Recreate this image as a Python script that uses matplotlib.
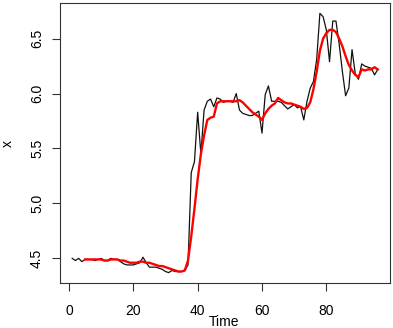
import matplotlib
matplotlib.use('Agg')
import matplotlib.pyplot as plt

plt.rcParams['font.family'] = ['Liberation Sans', 'DejaVu Sans']

# observed series, t = 1..96
time = list(range(1, 97))
x = [4.50, 4.48, 4.50, 4.47, 4.49, 4.49, 4.49, 4.48, 4.49, 4.50,
     4.48, 4.48, 4.50, 4.49, 4.49, 4.47, 4.45, 4.44, 4.44, 4.44,
     4.45, 4.46, 4.51, 4.46, 4.42, 4.42, 4.42, 4.41, 4.40, 4.38,
     4.37, 4.39, 4.38, 4.38, 4.38, 4.39, 4.44, 5.28, 5.38, 5.83,
     5.45, 5.85, 5.93, 5.95, 5.88, 5.96, 5.95, 5.92, 5.93, 5.93,
     5.92, 6.00, 5.85, 5.82, 5.81, 5.80, 5.80, 5.82, 5.84, 5.64,
     5.99, 6.07, 5.93, 5.93, 5.93, 5.92, 5.89, 5.86, 5.88, 5.90,
     5.87, 5.88, 5.76, 5.93, 6.05, 6.11, 6.31, 6.73, 6.70, 6.58,
     6.29, 6.66, 6.66, 6.45, 6.20, 5.98, 6.05, 6.40, 6.18, 6.13,
     6.27, 6.25, 6.24, 6.23, 6.17, 6.22]

# smoothed series (red), t = 5..96
smooth_time = list(range(5, 97))
smooth = [4.49, 4.49, 4.49, 4.49, 4.49, 4.49, 4.48, 4.48, 4.49, 4.49,
          4.49, 4.48, 4.48, 4.47, 4.46, 4.46, 4.46, 4.47, 4.47, 4.46,
          4.46, 4.45, 4.44, 4.43, 4.43, 4.42, 4.41, 4.40, 4.39, 4.38,
          4.38, 4.39, 4.48, 4.70, 4.95, 5.22, 5.45, 5.62, 5.76, 5.78,
          5.79, 5.91, 5.93, 5.93, 5.93, 5.93, 5.93, 5.93, 5.94, 5.92,
          5.89, 5.86, 5.83, 5.81, 5.79, 5.76, 5.82, 5.86, 5.89, 5.91,
          5.96, 5.94, 5.92, 5.91, 5.91, 5.90, 5.89, 5.88, 5.86, 5.87,
          5.92, 6.04, 6.20, 6.39, 6.50, 6.55, 6.58, 6.58, 6.56, 6.50,
          6.43, 6.34, 6.26, 6.21, 6.17, 6.15, 6.22, 6.21, 6.22, 6.22,
          6.24, 6.22]

fig = plt.figure(figsize=(3.93, 3.28), dpi=100)
ax = fig.add_axes([60/393, 1 - 283/328, 330/393, 280/328])

ax.plot(time, x, color='#111111', lw=0.9)
ax.plot(smooth_time, smooth, color='#ff0000', lw=1.7)
ax.margins(0.04)

ax.set_xticks([0, 20, 40, 60, 80])
ax.set_yticks([4.5, 5.0, 5.5, 6.0, 6.5])
ax.set_yticklabels(['4.5', '5.0', '5.5', '6.0', '6.5'], rotation=90, va='center')
ax.tick_params(axis='x', length=6, width=0.8, color='#333333', pad=9, labelsize=10)
ax.tick_params(axis='y', length=6, width=0.8, color='#333333', pad=5.5, labelsize=10)
for s in ax.spines.values():
    s.set_color('#333333')
    s.set_linewidth(0.8)

# axis titles placed like R's default margins
fig.text(224/393, 1 - 322/328, 'Time', ha='center', va='center', fontsize=10)
fig.text(8/393, 1 - 143/328, 'x', ha='center', va='center', rotation=90, fontsize=10)

plt.savefig('out.png', dpi=100)
